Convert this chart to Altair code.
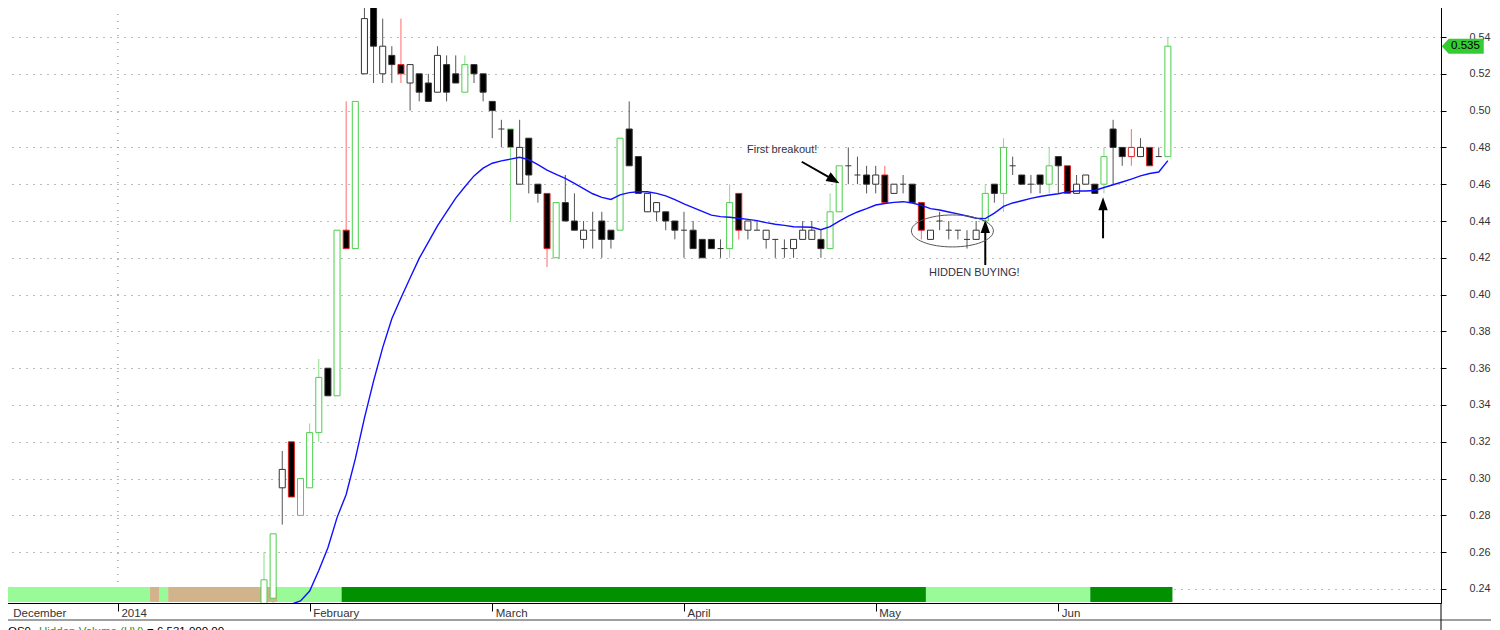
import altair as alt
import pandas as pd

# ---------------- data (trading-day index, 0 = first candle visible) ----------------
day = list(range(100))
opens = [0.225, 0.235, 0.295, 0.32, 0.28, 0.295, 0.325, 0.36, 0.345, 0.435,
         0.425, 0.52, 0.565, 0.52, 0.53, 0.525, 0.515, 0.52, 0.515, 0.51,
         0.525, 0.52, 0.51, 0.525, 0.52, 0.505, 0.49, 0.49, 0.46, 0.485,
         0.46, 0.455, 0.42, 0.45, 0.44, 0.43, 0.435, 0.44, 0.435, 0.435,
         0.49, 0.475, 0.445, 0.445, 0.445, 0.44, 0.435, 0.435, 0.43, 0.43,
         0.425, 0.425, 0.455, 0.435, 0.435, 0.43, 0.43, 0.425, 0.425, 0.43,
         0.43, 0.43, 0.425, 0.445, 0.47, 0.465, 0.465, 0.46, 0.465, 0.455,
         0.46, 0.46, 0.45, 0.43, 0.44, 0.435, 0.435, 0.43, 0.43, 0.44,
         0.46, 0.455, 0.47, 0.465, 0.46, 0.465, 0.46, 0.475, 0.47, 0.455,
         0.46, 0.46, 0.46, 0.49, 0.48, 0.475, 0.475, 0.48, 0.475, 0.475]
highs = [0.26, 0.27, 0.315, 0.32, 0.30, 0.33, 0.365, 0.36, 0.435, 0.505,
         0.505, 0.57, 0.57, 0.55, 0.535, 0.55, 0.525, 0.52, 0.52, 0.535,
         0.53, 0.53, 0.53, 0.525, 0.52, 0.505, 0.495, 0.49, 0.495, 0.485,
         0.46, 0.455, 0.45, 0.465, 0.455, 0.44, 0.445, 0.445, 0.435, 0.485,
         0.505, 0.475, 0.455, 0.45, 0.445, 0.44, 0.445, 0.44, 0.43, 0.43,
         0.43, 0.46, 0.455, 0.44, 0.44, 0.435, 0.43, 0.43, 0.43, 0.44,
         0.44, 0.435, 0.455, 0.47, 0.48, 0.475, 0.47, 0.47, 0.47, 0.46,
         0.465, 0.46, 0.45, 0.435, 0.445, 0.44, 0.435, 0.435, 0.44, 0.46,
         0.46, 0.485, 0.475, 0.465, 0.465, 0.465, 0.48, 0.475, 0.47, 0.465,
         0.465, 0.46, 0.48, 0.495, 0.48, 0.49, 0.485, 0.48, 0.48, 0.54]
lows = [0.22, 0.23, 0.275, 0.29, 0.28, 0.295, 0.32, 0.345, 0.345, 0.425,
        0.425, 0.52, 0.515, 0.515, 0.515, 0.515, 0.50, 0.505, 0.505, 0.51,
        0.505, 0.515, 0.51, 0.515, 0.505, 0.485, 0.48, 0.44, 0.46, 0.455,
        0.45, 0.415, 0.42, 0.44, 0.435, 0.425, 0.425, 0.42, 0.425, 0.435,
        0.47, 0.455, 0.445, 0.44, 0.435, 0.43, 0.42, 0.425, 0.42, 0.425,
        0.42, 0.42, 0.43, 0.43, 0.435, 0.425, 0.42, 0.42, 0.42, 0.43,
        0.43, 0.42, 0.425, 0.445, 0.46, 0.46, 0.455, 0.455, 0.45, 0.455,
        0.455, 0.45, 0.43, 0.43, 0.435, 0.43, 0.43, 0.425, 0.43, 0.44,
        0.45, 0.445, 0.465, 0.46, 0.455, 0.455, 0.455, 0.455, 0.455, 0.455,
        0.46, 0.455, 0.455, 0.46, 0.47, 0.47, 0.475, 0.47, 0.475, 0.475]
closes = [0.245, 0.27, 0.305, 0.29, 0.30, 0.325, 0.355, 0.345, 0.435, 0.425,
          0.505, 0.55, 0.535, 0.535, 0.525, 0.52, 0.525, 0.51, 0.505, 0.53,
          0.51, 0.515, 0.525, 0.52, 0.51, 0.50, 0.49, 0.48, 0.48, 0.465,
          0.455, 0.425, 0.45, 0.44, 0.435, 0.435, 0.435, 0.43, 0.43, 0.485,
          0.47, 0.455, 0.455, 0.45, 0.44, 0.435, 0.435, 0.425, 0.42, 0.425,
          0.425, 0.45, 0.435, 0.44, 0.435, 0.435, 0.43, 0.425, 0.43, 0.435,
          0.435, 0.425, 0.445, 0.47, 0.47, 0.465, 0.46, 0.465, 0.45, 0.46,
          0.46, 0.45, 0.435, 0.435, 0.44, 0.435, 0.435, 0.43, 0.435, 0.455,
          0.455, 0.48, 0.47, 0.46, 0.46, 0.46, 0.47, 0.47, 0.455, 0.46,
          0.465, 0.455, 0.475, 0.48, 0.475, 0.48, 0.48, 0.47, 0.475, 0.535]
# volume colour of each candle: g = green, r = red, k = neutral
vol_flag = list("ggkrgggkgr" "gkkkkrkkkk" "kkgkkkkgkk" "krgkkkkkkg" "kkkkkkkkkk"
                "kgrkkkkkkk" "kkggkkkkrk" "kkrkkkkkkg" "kgkkkkgkrk" "kkgkkrkrkg")

ma_day = list(range(3, 100))
ma_val = [0.2318, 0.2335, 0.2389, 0.2501, 0.2624, 0.2788, 0.2914, 0.3107, 0.3329, 0.3530,
          0.3712, 0.3869, 0.3982, 0.4090, 0.4197, 0.4285, 0.4373, 0.4450, 0.4524, 0.4586,
          0.4645, 0.4687, 0.4714, 0.4727, 0.4736, 0.4746, 0.4733, 0.4706, 0.4677, 0.4654,
          0.4632, 0.4604, 0.4576, 0.4548, 0.4528, 0.4517, 0.4542, 0.4554, 0.4559, 0.4559,
          0.4550, 0.4537, 0.4516, 0.4493, 0.4473, 0.4452, 0.4432, 0.4424, 0.4420, 0.4415,
          0.4409, 0.4402, 0.4391, 0.4382, 0.4376, 0.4369, 0.4367, 0.4366, 0.4353, 0.4369,
          0.4399, 0.4427, 0.4449, 0.4467, 0.4487, 0.4495, 0.4501, 0.4505, 0.4498, 0.4485,
          0.4467, 0.4460, 0.4449, 0.4439, 0.4427, 0.4415, 0.4413, 0.4443, 0.4479, 0.4498,
          0.4510, 0.4523, 0.4533, 0.4541, 0.4548, 0.4558, 0.4563, 0.4563, 0.4566, 0.4582,
          0.4597, 0.4612, 0.4628, 0.4645, 0.4658, 0.4666, 0.4728]

# Hidden Volume indicator strip
band_start = [-28, -12, -11, -10, 2, 9, 73, 91]
band_end = [-13, -12, -11, 1, 8, 72, 90, 99]
band_color = ["#98FB98", "#D2B48C", "#98FB98", "#D2B48C", "#98FB98", "#009000", "#98FB98", "#009000"]

month_pos = [-27.85, -16, 5, 25, 46, 67, 87]
month_lab = ["December", "2014", "February", "March", "April", "May", "Jun"]
y_ticks = [0.24, 0.26, 0.28, 0.30, 0.32, 0.34, 0.36, 0.38, 0.40, 0.42,
           0.44, 0.46, 0.48, 0.50, 0.52, 0.54, 0.56]
last_price = 0.535

# ---------------- build tables ----------------
STROKE = {"g": "#4ccf4c", "r": "#e02020", "k": "#333333"}
WICK = {"g": "#86df86", "r": "#ff6a6a", "k": "#555555"}
df = pd.DataFrame(dict(day=day, o=opens, h=highs, l=lows, c=closes, v=vol_flag))
df["stroke"] = df["v"].map(STROKE)
df["wick"] = df["v"].map(WICK)
df["fill"] = ["#ffffff" if c >= o else "#000000" for o, c in zip(df.o, df.c)]
df["x1"] = df["day"] - 0.33
df["x2"] = df["day"] + 0.33
body = df[df.o != df.c]
doji = df[df.o == df.c]

ma = pd.DataFrame(dict(d=ma_day, m=ma_val))
band = pd.DataFrame(dict(s=band_start, e=band_end, col=band_color))

XD = [-28.368, 128.915]
YD = [0.23239, 0.56011]
xs = alt.Scale(domain=XD, nice=False, zero=False)
ys = alt.Scale(domain=YD, nice=False, zero=False)
FONT = "Liberation Sans"

label_expr = " : ".join(f"datum.value == {p} ? '{n}'" for p, n in zip(month_pos, month_lab)) + " : ''"
xaxis = alt.Axis(orient="bottom", values=month_pos, labelExpr=label_expr, title=None, grid=False,
                 domainColor="#000000", domainWidth=1,
                 tickColor={"condition": {"test": "datum.value < -20", "value": "transparent"}, "value": "#000000"},
                 tickSize=8, labelAlign="left", labelOffset=3, labelBaseline="alphabetic",
                 labelPadding=5, labelFontSize=11.5, labelFont=FONT, labelColor="#333333",
                 labelFlush=False, labelOverlap=False)
yaxis = alt.Axis(orient="right", values=y_ticks, format=".2f", title=None, grid=True,
                 gridDash=[1, 6], gridColor="#777777", gridWidth=1,
                 domainColor="#000000", tickColor="#000000", tickSize=5,
                 labelPadding=23, labelAlign="left", labelBaseline="middle",
                 labelFont=FONT, labelFontSize=10.8, labelColor="#333333", labelFlush=False)


def X(f):
    return alt.X(f, type="quantitative", scale=xs, axis=xaxis)


def Y(f):
    return alt.Y(f, type="quantitative", scale=ys, axis=yaxis)


one = pd.DataFrame({"z": [0]})

# year divider (dotted vertical)
year_line = alt.Chart(pd.DataFrame({"k": [month_pos[1]]})).mark_rule(
    color="#777777", strokeDash=[1, 6], strokeWidth=1).encode(
    x=X("k"), y=alt.value(0), y2=alt.value(586))

band_layer = alt.Chart(band).transform_calculate(
    bs="datum.s - 0.5", be="datum.e + 0.5").mark_rect(clip=True).encode(
    x=X("bs:Q"), x2="be:Q", y=alt.value(587), y2=alt.value(602),
    fill=alt.Fill("col:N", scale=None))

wicks = alt.Chart(df).mark_rule(clip=True, strokeWidth=1).encode(
    x=X("day"), y=Y("l"), y2="h", color=alt.Color("wick:N", scale=None))

bodies = alt.Chart(body).mark_rect(clip=True, strokeWidth=1).encode(
    x=X("x1"), x2="x2", y=Y("o"), y2="c",
    fill=alt.Fill("fill:N", scale=None), stroke=alt.Stroke("stroke:N", scale=None))

dojis = alt.Chart(doji).mark_rule(clip=True, strokeWidth=1).encode(
    x=X("x1"), x2="x2", y=Y("o"), color=alt.Color("stroke:N", scale=None))

ma_line = alt.Chart(ma).mark_line(clip=True, color="#1010ff", strokeWidth=1.4).encode(
    x=X("d"), y=Y("m"))

# ---------------- annotations ----------------
txt = pd.DataFrame({"k": [52.9], "v": [0.4786], "t": ["First breakout!"]})
t1 = alt.Chart(txt).mark_text(align="left", baseline="middle", font=FONT, fontSize=11,
                              color="#333344").encode(x=X("k"), y=Y("v"), text="t:N")
txt2 = pd.DataFrame({"k": [77.8], "v": [0.412], "t": ["HIDDEN BUYING!"]})
t2 = alt.Chart(txt2).mark_text(align="center", baseline="middle", font=FONT, fontSize=11,
                               color="#333344").encode(x=X("k"), y=Y("v"), text="t:N")

shafts = pd.DataFrame({"k1": [58.9, 79.0, 91.9], "v1": [0.4722, 0.4161, 0.4306],
                       "k2": [62.4, 79.0, 91.9], "v2": [0.4623, 0.4370, 0.4494]})
shaft_layer = alt.Chart(shafts).mark_rule(color="#000000", strokeWidth=2).encode(
    x=X("k1"), x2="k2", y=Y("v1"), y2="v2")

head_diag = alt.Chart(pd.DataFrame({"k": [62.4], "v": [0.4623]})).mark_point(
    shape="M 1 0 L -1 -0.78 L -1 0.78 Z", size=169, angle=30, filled=True,
    color="#000000", opacity=1).encode(x=X("k"), y=Y("v"))
head_up = alt.Chart(pd.DataFrame({"k": [79.0, 91.9], "v": [0.4370, 0.4494]})).mark_point(
    shape="M 0 -1 L 0.72 1 L -0.72 1 Z", size=169, filled=True,
    color="#000000", opacity=1).encode(x=X("k"), y=Y("v"))

ellipse = alt.Chart(pd.DataFrame({"k": [75.4], "v": [0.4346]})).mark_point(
    shape="M -1 0 A 1 0.39 0 1 0 1 0 A 1 0.39 0 1 0 -1 0 Z", size=6724, filled=False,
    color="#555555", strokeWidth=1, opacity=1).encode(x=X("k"), y=Y("v"))

tag = alt.Chart(pd.DataFrame({"k": [131.3], "v": [last_price]})).mark_point(
    shape="M -1 0 L -0.67 -0.36 L 1 -0.36 L 1 0.36 L -0.67 0.36 Z", size=1764, filled=True,
    color="#33cc33", opacity=1, clip=False, strokeWidth=0).encode(x=X("k"), y=Y("v"))
tag_txt = alt.Chart(pd.DataFrame({"k": [131.6], "v": [last_price], "t": [f"{last_price:.3f}"]})).mark_text(
    font=FONT, fontSize=11.5, color="#000000", align="center", baseline="middle", clip=False).encode(
    x=X("k"), y=Y("v"), text="t:N")

# frame pieces below the date axis
bottom_line = alt.Chart(one).mark_rule(color="#a0a0a0", strokeWidth=2, clip=False).encode(
    x=alt.value(-10), x2=alt.value(1500), y=alt.value(620))
right_ext = alt.Chart(one).mark_rule(color="#000000", strokeWidth=1, clip=False).encode(
    x=alt.value(1436), y=alt.value(603), y2=alt.value(645))

foot = pd.DataFrame({"t": ["OS9 - ", "Hidden Volume (HV)", "= 6,531,000.00"],
                     "px": [3, 34, 142], "col": ["#000000", "#1f9a1f", "#000000"]})
footer = alt.Chart(foot).mark_text(align="left", baseline="alphabetic", font=FONT, fontSize=11.5,
                                   clip=False).encode(
    x=alt.X("px:Q", scale=None), y=alt.value(635), text="t:N", color=alt.Color("col:N", scale=None))

chart = alt.layer(
    year_line, band_layer, wicks, bodies, dojis, ma_line,
    t1, t2, shaft_layer, head_diag, head_up, ellipse, tag, tag_txt,
    bottom_line, right_ext, footer
).properties(
    width=1436, height=603,
    autosize=alt.AutoSizeParams(type="none"),
    padding={"left": -3, "top": -8, "right": 50, "bottom": 40},
    background="#ffffff",
).configure_view(stroke=None)

chart.save("out.html", embed_options={"renderer": "svg", "actions": False})
